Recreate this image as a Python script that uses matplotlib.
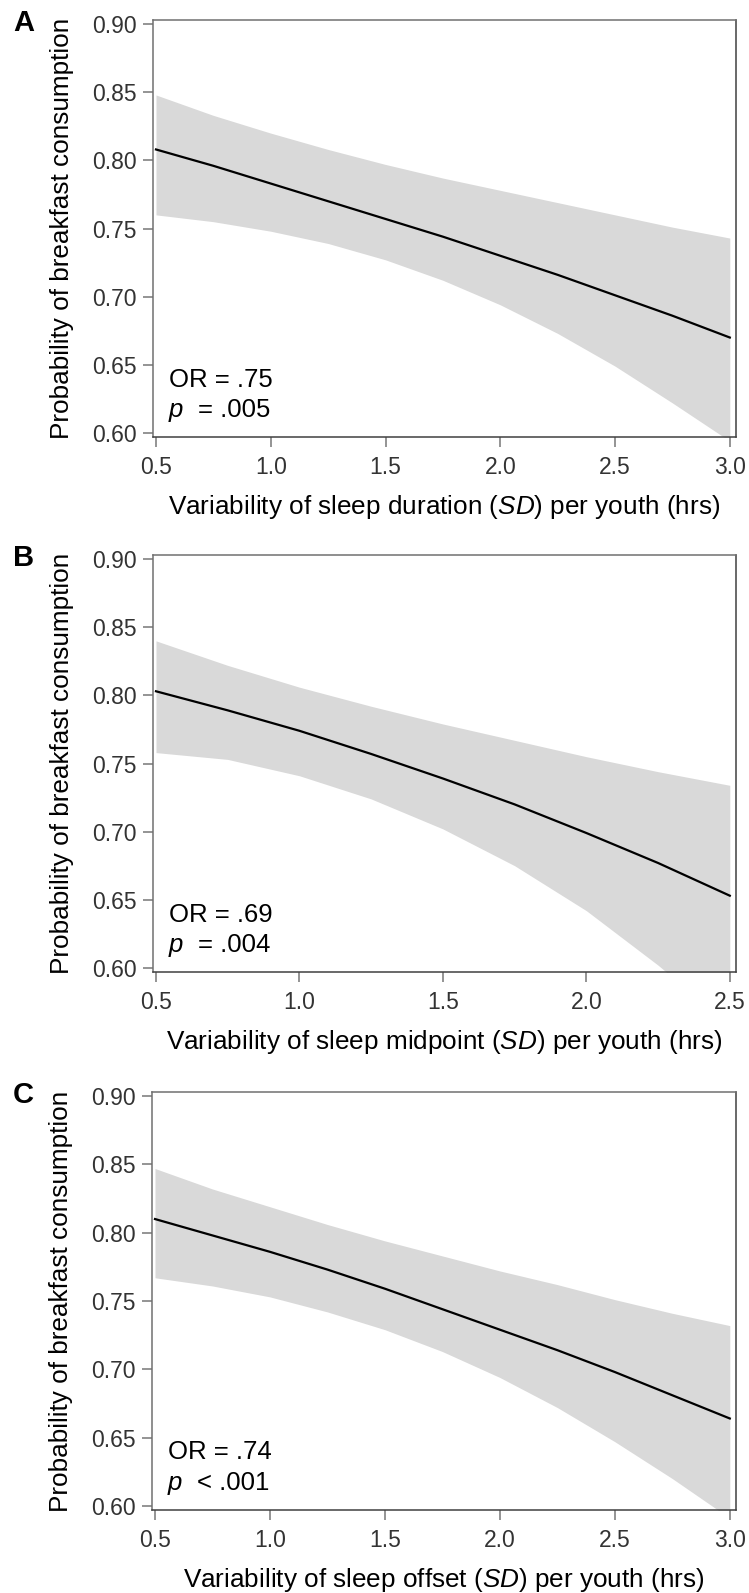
import matplotlib
matplotlib.use("Agg")
import matplotlib.pyplot as plt
import numpy as np

plt.rcParams["font.family"] = ["Liberation Sans", "DejaVu Sans"]
plt.rcParams["mathtext.fontset"] = "custom"
plt.rcParams["mathtext.it"] = "Liberation Sans:italic"
plt.rcParams["mathtext.rm"] = "Liberation Sans"

# panel A: sleep duration
x_a = [0.5, 0.75, 1.0, 1.25, 1.5, 1.75, 2.0, 2.25, 2.5, 2.75, 3.0]
fit_a = [0.808, 0.796, 0.783, 0.770, 0.757, 0.744, 0.730, 0.716, 0.701, 0.686, 0.670]
hi_a = [0.848, 0.833, 0.820, 0.808, 0.797, 0.787, 0.778, 0.769, 0.760, 0.751, 0.743]
lo_a = [0.760, 0.755, 0.748, 0.739, 0.727, 0.712, 0.694, 0.673, 0.649, 0.622, 0.594]

# panel B: sleep midpoint
x_b = [0.5, 0.75, 1.0, 1.25, 1.5, 1.75, 2.0, 2.25, 2.5]
fit_b = [0.803, 0.789, 0.774, 0.757, 0.739, 0.720, 0.699, 0.677, 0.653]
hi_b = [0.840, 0.822, 0.806, 0.792, 0.779, 0.767, 0.755, 0.744, 0.734]
lo_b = [0.758, 0.753, 0.741, 0.724, 0.702, 0.675, 0.642, 0.602, 0.558]

# panel C: sleep offset
x_c = [0.5, 0.75, 1.0, 1.25, 1.5, 1.75, 2.0, 2.25, 2.5, 2.75, 3.0]
fit_c = [0.810, 0.798, 0.786, 0.773, 0.759, 0.744, 0.729, 0.714, 0.698, 0.681, 0.664]
hi_c = [0.847, 0.832, 0.819, 0.806, 0.794, 0.783, 0.772, 0.762, 0.751, 0.741, 0.732]
lo_c = [0.767, 0.761, 0.753, 0.742, 0.729, 0.713, 0.694, 0.672, 0.647, 0.620, 0.591]

letters = ["A", "B", "C"]
xlabels = [
    "Variability of sleep duration ($\\mathit{SD}$) per youth (hrs)",
    "Variability of sleep midpoint ($\\mathit{SD}$) per youth (hrs)",
    "Variability of sleep offset ($\\mathit{SD}$) per youth (hrs)",
]
or_text = ["OR = .75", "OR = .69", "OR = .74"]
p_text = ["= .005", "= .004", "< .001"]
xticks_list = [[0.5, 1.0, 1.5, 2.0, 2.5, 3.0], [0.5, 1.0, 1.5, 2.0, 2.5],
               [0.5, 1.0, 1.5, 2.0, 2.5, 3.0]]
yticks = [0.60, 0.65, 0.70, 0.75, 0.80, 0.85, 0.90]

panels = [(x_a, fit_a, hi_a, lo_a), (x_b, fit_b, hi_b, lo_b), (x_c, fit_c, hi_c, lo_c)]

W, H = 749, 1593
fig = plt.figure(figsize=(W / 100, H / 100), dpi=100)

# axes boxes in pixels: left, top, right, bottom
boxes = [(153, 20, 736, 437), (153, 555, 736, 972), (152, 1092, 736, 1510)]

for i, (xs, fit, hi, lo) in enumerate(panels):
    l, t, r, b = boxes[i]
    ax = fig.add_axes([l / W, 1 - b / H, (r - l) / W, (b - t) / H])
    ax.fill_between(xs, lo, hi, color="#d9d9d9", lw=0)
    ax.plot(xs, fit, color="black", lw=1.6)

    xt = xticks_list[i]
    span = xt[-1] - xt[0]
    ax.set_xlim(xt[0] - 0.013 * span / 2.5, xt[-1] + 0.027 * span / 2.5)
    ax.set_ylim(0.597, 0.903)
    ax.set_xticks(xt)
    ax.set_xticklabels([f"{v:.1f}" for v in xt])
    ax.set_yticks(yticks)
    ax.set_yticklabels([f"{v:.2f}" for v in yticks])
    ax.tick_params(direction="out", length=7.5, width=1.1, color="#777777",
                   labelsize=16.5, labelcolor="#333333")
    ax.tick_params(axis="x", pad=6)
    ax.tick_params(axis="y", pad=4)
    for side, c in [("top", "#707070"), ("left", "#707070"),
                    ("right", "#404040"), ("bottom", "#404040")]:
        ax.spines[side].set_color(c)
        ax.spines[side].set_linewidth(1.1)

    ax.set_xlabel(xlabels[i], fontsize=18.8, labelpad=10.5)
    ax.set_ylabel("Probability of breakfast consumption", fontsize=18.8, labelpad=13.5)

    ax.text(0.027, 0.121, or_text[i], transform=ax.transAxes, fontsize=18.5,
            va="baseline", ha="left")
    ax.text(0.026, 0.047, "$p$", transform=ax.transAxes, fontsize=18.5,
            va="baseline", ha="left")
    ax.text(0.077, 0.047, p_text[i], transform=ax.transAxes, fontsize=18.5,
            va="baseline", ha="left")

    fig.text(13 / W, 1 - (t + 3) / H, letters[i], fontsize=21, fontweight="bold",
             ha="left", va="center")

fig.savefig("out.png", dpi=100)
